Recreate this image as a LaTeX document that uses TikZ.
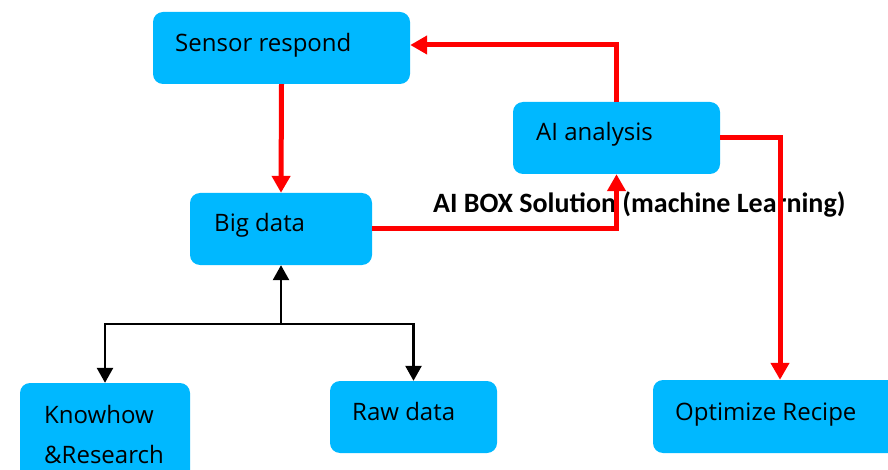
\documentclass[tikz,border=0pt]{standalone}
\usepackage{fontspec}
\setmainfont{Open Sans}
\newfontfamily\boldlabel{Carlito}
\usepackage{tikz}
\usetikzlibrary{positioning, arrows.meta, calc}
\definecolor{boxblue}{RGB}{0,184,255}
\definecolor{linkred}{RGB}{255,0,0}

\begin{document}
\begin{tikzpicture}[x=1pt,y=-1pt,
    box/.style={fill=boxblue,rounded corners=10pt,inner sep=0pt,minimum height=72pt},
    txt/.style={anchor=base west,inner sep=0pt,align=left,font=\fontsize{24}{40}\selectfont},
    redarrow/.style={draw=linkred,line width=5pt,-{Triangle[length=17pt,width=18pt]}},
    blackarrow/.style={draw=black,line width=2.6pt,-{Triangle[length=15pt,width=16pt]}}]
    \useasboundingbox (0,0) rectangle (888,470);

    % boxes
    \node[box, minimum width=257pt] (sensor) at (281.5,48) {};
    \node[box, minimum width=207pt] (ai) at (616.5,138) {};
    \node[box, minimum width=182pt] (bigdata) at (281,229) {};
    \node[box, minimum width=170pt, minimum height=112pt] (know) at (105,439) {};
    \node[box, minimum width=167pt] (raw) at (413.5,417) {};
    \node[box, minimum width=254pt, minimum height=73pt] (recipe) at (780,416.5) {};

    % texts
    \node[txt] (sensor_t) at (175,52) {Sensor respond};
    \node[txt] (ai_t) at (536,141) {AI analysis};
    \node[txt] (bigdata_t) at (214,232) {Big data};
    \node[txt] (know_t) at (44,463) {Knowhow\\\&Research};
    \node[txt] (raw_t) at (352,420) {Raw data};
    \node[txt] (recipe_t) at (675,420) {Optimize Recipe};
    \node[anchor=base west,inner sep=0pt,font=\boldlabel\bfseries\fontsize{28}{32}\selectfont]
        (aibox) at (433,213) {AI BOX Solution (machine Learning)};

    % red loop
    \draw[redarrow] (sensor.south) -- (bigdata.north);
    \draw[redarrow] (bigdata.east) -| (ai.south);
    \draw[redarrow] (ai.north) |- ([yshift=3pt]sensor.east);
    \draw[redarrow] (ai.east) -| (recipe.north);

    % inputs of big data
    \coordinate (split) at (281,324);
    \draw[blackarrow] (split) -- (bigdata.south);
    \draw[blackarrow] (split) -| (know.north);
    \draw[blackarrow] (split) -| (raw.north);
\end{tikzpicture}
\end{document}
